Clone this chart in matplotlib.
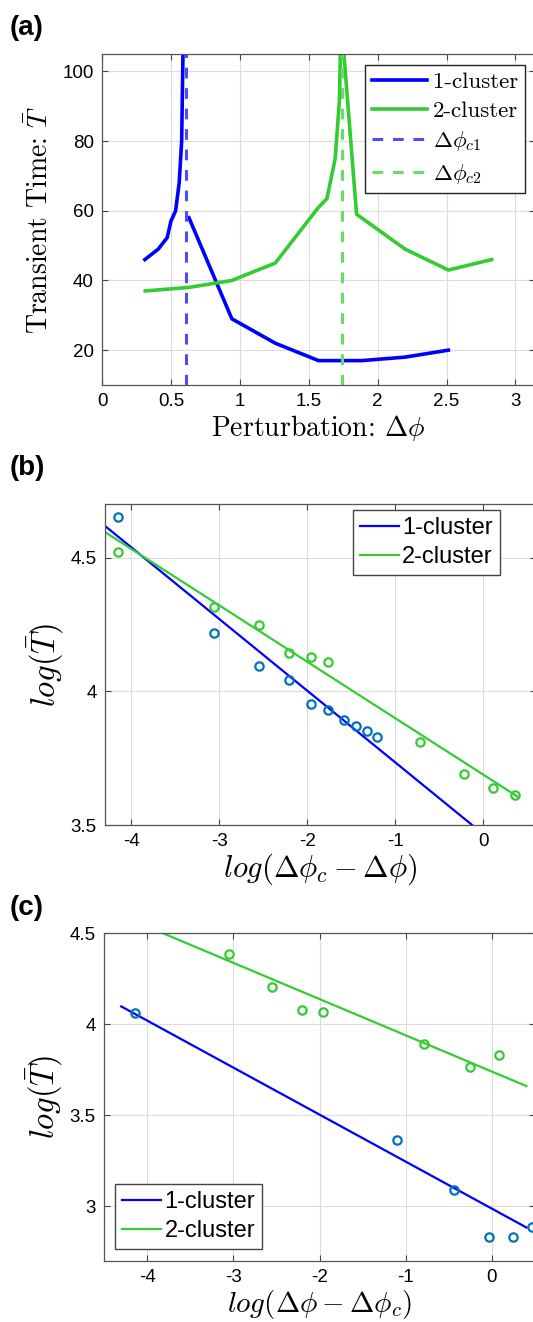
import numpy as np
import matplotlib
matplotlib.use('Agg')
import matplotlib.pyplot as plt

plt.rcParams['mathtext.fontset'] = 'cm'
plt.rcParams['font.family'] = ['Liberation Sans', 'DejaVu Sans']
plt.rcParams['axes.unicode_minus'] = False

# ---- data (a): transient time vs perturbation ----
phi1_pre = [0.311, 0.408, 0.473, 0.50, 0.534, 0.56, 0.578, 0.595]
T1_pre = [46, 49, 52.3, 57, 60, 68, 80, 125]
phi1_post = [0.631, 0.942, 1.257, 1.571, 1.885, 2.199, 2.513]
T1_post = [58, 29, 22, 17, 17, 18, 20]
phi2 = [0.314, 0.628, 0.942, 1.257, 1.571, 1.632, 1.692, 1.723, 1.742, 1.757, 1.847, 2.199, 2.513, 2.827]
T2 = [37, 38, 40, 45, 61, 63.5, 75, 92, 130, 104, 59, 49, 43, 46]
phi_c1 = 0.608
phi_c2 = 1.741

# ---- data (b): log fits below critical point ----
b_x1 = [-4.155, -3.058, -2.547, -2.209, -1.957, -1.760, -1.585, -1.442, -1.326, -1.209]
b_y1 = [4.653, 4.219, 4.095, 4.042, 3.952, 3.930, 3.891, 3.871, 3.851, 3.829]
b_x2 = [-4.155, -3.058, -2.547, -2.209, -1.957, -1.760, -0.721, -0.221, 0.109, 0.364]
b_y2 = [4.520, 4.315, 4.248, 4.143, 4.128, 4.110, 3.809, 3.690, 3.639, 3.611]
b_fit_x = [-4.3, 0.4]
b_fit1 = [4.618, 3.359]
b_fit2 = [4.595, 3.604]

# ---- data (c): log fits above critical point ----
c_x1 = [-4.145, -1.105, -0.434, -0.032, 0.249, 0.466]
c_y1 = [4.060, 3.365, 3.090, 2.831, 2.831, 2.888]
c_x2 = [-3.052, -2.546, -2.207, -1.954, -0.782, -0.257, 0.087]
c_y2 = [4.384, 4.206, 4.079, 4.064, 3.891, 3.762, 3.828]
c_fit_x = [-4.3, 0.4]
c_fit1 = [4.097, 2.884]
c_fit2 = [4.595, 3.660]

BLUE = '#0000FF'
GREEN = '#33CC33'
MBLUE = '#0072BD'
W, H = 533, 1322


def style(ax):
    ax.grid(True, color='#dcdcdc', lw=0.8)
    ax.set_axisbelow(True)
    ax.tick_params(direction='in', top=True, right=True, labelsize=13.5,
                   length=4, width=0.8, color='#444444', pad=6)
    for s in ax.spines.values():
        s.set_color('#555555')
        s.set_linewidth(0.9)


def axbox(left, top, right, bottom):
    return [left / W, 1 - bottom / H, (right - left) / W, (bottom - top) / H]


fig = plt.figure(figsize=(W / 100, H / 100), dpi=100)
serif = {'family': 'cmr10', 'size': 20}

# (a)
ax = fig.add_axes(axbox(102, 54, 535, 385))
style(ax)
ax.plot(phi1_pre, T1_pre, color=BLUE, lw=2.6, label='1-cluster')
ax.plot(phi1_post, T1_post, color=BLUE, lw=2.6)
ax.plot(phi2, T2, color=GREEN, lw=2.6, label='2-cluster')
ax.axvline(phi_c1, color='#4D4DFF', lw=2.2, dashes=(3.5, 3.2), label=r'$\Delta\phi_{c1}$')
ax.axvline(phi_c2, color='#66DD66', lw=2.2, dashes=(3.5, 3.2), label=r'$\Delta\phi_{c2}$')
ax.set_xlim(0, np.pi)
ax.set_ylim(10, 105)
ax.set_xticks([0, 0.5, 1, 1.5, 2, 2.5, 3])
ax.set_xticklabels(['0', '0.5', '1', '1.5', '2', '2.5', '3'])
ax.set_yticks([20, 40, 60, 80, 100])
ax.set_xlabel(r'Perturbation: $\Delta\phi$', fontdict=serif, labelpad=2)
ax.set_ylabel(r'Transient Time: $\bar{T}$', fontdict=serif, labelpad=6)
leg = ax.legend(loc='upper right', bbox_to_anchor=(525 / W, 1 - 65 / H),
                bbox_transform=fig.transFigure, borderaxespad=0,
                prop={'family': 'cmr10', 'size': 16.5}, fancybox=False,
                framealpha=1, edgecolor='#222222', handlelength=2.4,
                handletextpad=0.25, labelspacing=0.38, borderpad=0.3)
leg.get_frame().set_linewidth(1.0)

# (b)
ax = fig.add_axes(axbox(105, 504, 536, 825))
style(ax)
ax.plot(b_fit_x, b_fit1, color=BLUE, lw=1.6, label='1-cluster')
ax.plot(b_fit_x, b_fit2, color=GREEN, lw=1.6, label='2-cluster')
ax.plot(b_x1, b_y1, 'o', mfc='none', mec=MBLUE, ms=6, mew=1.6)
ax.plot(b_x2, b_y2, 'o', mfc='none', mec=GREEN, ms=6, mew=1.6)
ax.set_xlim(-4.3, 0.6)
ax.set_ylim(3.5, 4.7)
ax.set_xticks([-4, -3, -2, -1, 0])
ax.set_yticks([3.5, 4, 4.5])
ax.set_yticklabels(['3.5', '4', '4.5'])
ax.set_xlabel(r'$log(\Delta\phi_c - \Delta\phi)$', fontsize=22, labelpad=1)
ax.set_ylabel(r'$log(\bar{T})$', fontsize=23.5, labelpad=3)
leg = ax.legend(loc='upper right', bbox_to_anchor=(500 / W, 1 - 510 / H),
                bbox_transform=fig.transFigure, borderaxespad=0,
                fontsize=17, fancybox=False, framealpha=1, edgecolor='#444444',
                handlelength=1.65, handletextpad=0.15, labelspacing=0.3,
                borderpad=0.3)
leg.get_frame().set_linewidth(1.0)

# (c)
ax = fig.add_axes(axbox(104, 933, 535, 1261))
style(ax)
ax.plot(c_fit_x, c_fit1, color=BLUE, lw=1.6, label='1-cluster')
ax.plot(c_fit_x, c_fit2, color=GREEN, lw=1.6, label='2-cluster')
ax.plot(c_x1, c_y1, 'o', mfc='none', mec=MBLUE, ms=6, mew=1.6)
ax.plot(c_x2, c_y2, 'o', mfc='none', mec=GREEN, ms=6, mew=1.6)
ax.set_xlim(-4.5, 0.5)
ax.set_ylim(2.7, 4.5)
ax.set_xticks([-4, -3, -2, -1, 0])
ax.set_yticks([3, 3.5, 4, 4.5])
ax.set_yticklabels(['3', '3.5', '4', '4.5'])
ax.set_xlabel(r'$log(\Delta\phi - \Delta\phi_c)$', fontsize=21, labelpad=1)
ax.set_ylabel(r'$log(\bar{T})$', fontsize=23.5, labelpad=3)
leg = ax.legend(loc='lower left', bbox_to_anchor=(115 / W, 1 - 1249 / H),
                bbox_transform=fig.transFigure, borderaxespad=0,
                fontsize=17, fancybox=False, framealpha=1, edgecolor='#444444',
                handlelength=1.65, handletextpad=0.15, labelspacing=0.3,
                borderpad=0.3)
leg.get_frame().set_linewidth(1.0)

# panel letters
for lab, ytop in [('(a)', 15), ('(b)', 455), ('(c)', 895)]:
    fig.text(10 / W, 1 - ytop / H, lab, fontsize=20, fontweight='bold',
             ha='left', va='top')

fig.savefig('out.png', dpi=100)
